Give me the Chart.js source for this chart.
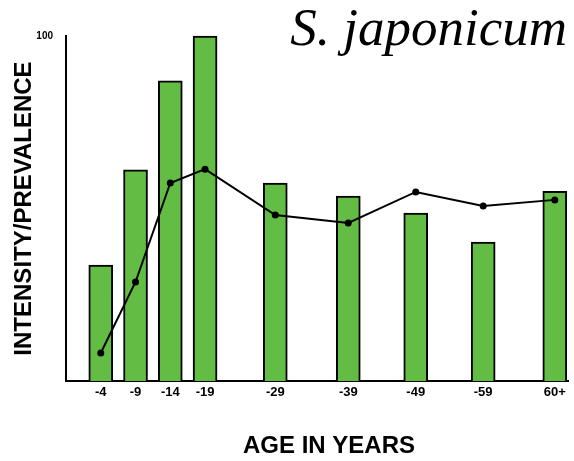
<!DOCTYPE html>
<html>
<head>
<meta charset="utf-8">
<script src="https://cdn.jsdelivr.net/npm/chart.js@4"></script>
<style>
  html, body { margin: 0; padding: 0; background: #fff; }
  #wrap { width: 574px; height: 461px; }
</style>
</head>
<body>
<div id="wrap"><canvas id="ageChart"></canvas></div>
<script>
// age groups, where they sit on the age axis, and the two series
const ageLabels = ['-4', '-9', '-14', '-19', '-29', '-39', '-49', '-59', '60+'];
const agePos = [2, 7, 12, 17, 27.1, 37.6, 47.3, 57, 67.3];
const barValues = [33.6, 61.2, 87, 100, 57.4, 53.6, 48.7, 40.3, 55];
const lineValues = [8.1, 28.7, 57.4, 61.4, 48.1, 45.8, 54.8, 50.7, 52.5];
const yTicks = [100];

// species name top right, and the x title (sits a bit right of the axis centre)
const extraText = {
    id: 'extraText',
    afterDraw(chart) {
        const ctx = chart.ctx;
        ctx.save();
        ctx.fillStyle = '#000';
        ctx.font = 'italic 53px "Liberation Serif", "Times New Roman", serif';
        ctx.textAlign = 'right';
        ctx.textBaseline = 'alphabetic';
        ctx.fillText('S. japonicum', 567, 45);

        ctx.font = 'bold 24px "Liberation Sans", Arial, sans-serif';
        ctx.textAlign = 'center';
        ctx.textBaseline = 'middle';
        ctx.fillText('AGE IN YEARS', 329, 446);
        ctx.restore();
    }
};

const ctx = document.getElementById('ageChart').getContext('2d');
new Chart(ctx, {
    type: 'bar',
    data: {
        datasets: [
            {
                type: 'line',
                data: agePos.map((x, i) => ({ x: x, y: lineValues[i] })),
                borderColor: '#000',
                backgroundColor: '#000',
                borderWidth: 2,
                pointRadius: 2.5,
                pointBackgroundColor: '#000',
                tension: 0,
                clip: false,
                order: 0
            },
            {
                type: 'bar',
                data: agePos.map((x, i) => ({ x: x, y: barValues[i] })),
                backgroundColor: '#63bd45',
                borderColor: '#000',
                borderWidth: 2,
                barThickness: 24,
                clip: false,
                order: 1
            }
        ]
    },
    options: {
        responsive: true,
        maintainAspectRatio: false,
        animation: false,
        layout: { padding: { top: 36, right: 3, bottom: 0, left: 0 } },
        plugins: {
            legend: { display: false },
            tooltip: { enabled: false }
        },
        scales: {
            x: {
                type: 'linear',
                offset: false,
                min: -3,
                max: 69.2,
                grid: { display: false, drawTicks: false },
                border: { display: true, color: '#000', width: 2 },
                afterBuildTicks: scale => { scale.ticks = agePos.map(v => ({ value: v })); },
                afterFit: scale => { scale.height = 80; },
                ticks: {
                    autoSkip: false,
                    maxRotation: 0,
                    padding: 4,
                    color: '#000',
                    font: { family: '"Liberation Sans", Arial, sans-serif', size: 13, weight: 'bold' },
                    callback: (v, i) => ageLabels[i]
                }
            },
            y: {
                min: 0,
                max: 100,
                grid: { display: false, drawTicks: false },
                border: { display: true, color: '#000', width: 2 },
                afterBuildTicks: scale => { scale.ticks = yTicks.map(v => ({ value: v })); },
                afterFit: scale => { scale.width = 66; },
                ticks: {
                    padding: 13,
                    color: '#000',
                    font: { family: '"Liberation Sans", Arial, sans-serif', size: 10, weight: 'bold' }
                },
                title: {
                    display: true,
                    text: 'INTENSITY/PREVALENCE',
                    color: '#000',
                    padding: { top: 10, bottom: 0 },
                    font: { family: '"Liberation Sans", Arial, sans-serif', size: 24, weight: 'bold' }
                }
            }
        }
    },
    plugins: [extraText]
});
</script>
</body>
</html>
